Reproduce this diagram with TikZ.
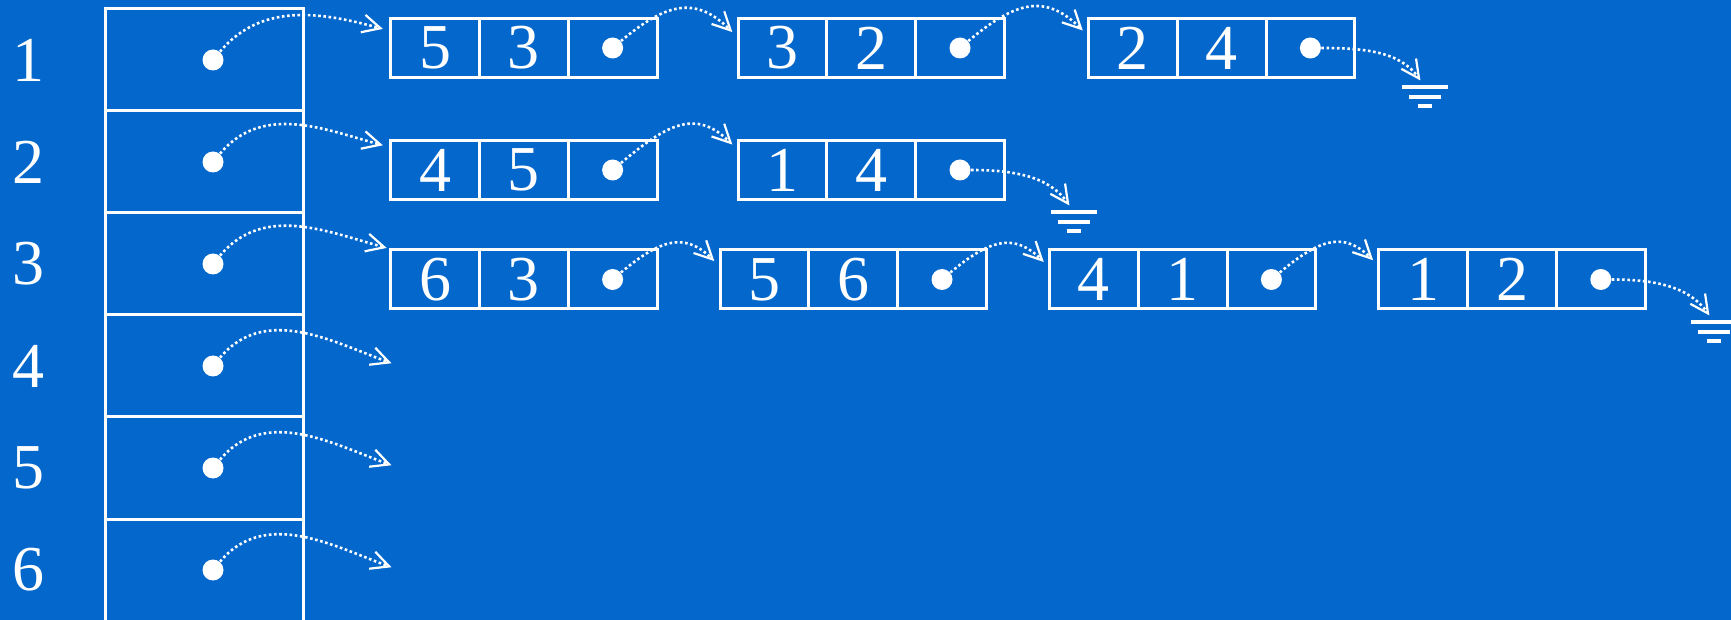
\documentclass[tikz,border=0pt]{standalone}
\usepackage{fontspec}
\setmainfont{Liberation Serif}
\usetikzlibrary{arrows.meta,positioning}
\definecolor{slide}{RGB}{4,103,204}

\begin{document}
\begin{tikzpicture}[
    x=0.5pt, y=-0.5pt,
    font=\fontsize{32}{38}\selectfont,
    every node/.style={text=white},
    slot/.style={draw=white, line width=1.5pt, outer sep=0pt, inner sep=0pt,
      minimum width=99pt, minimum height=51pt},
    cell/.style={draw=white, line width=1.5pt, outer sep=0pt, inner sep=0pt,
      minimum width=44.4pt, minimum height=29.5pt},
    ptr/.style={circle, fill=white, minimum size=10.5pt, inner sep=0pt},
    idx/.style={inner sep=0pt},
    link/.style={white, line width=1.3pt, dash pattern=on 1.3pt off 1.3pt,
      -{Straight Barb[length=9pt, width=9pt, line width=1.1pt]}, shorten >=4pt},
    earth/.pic={\draw[white, line width=1.6pt] (-23,0) -- (23,0) (-16,10) -- (16,10) (-7,19) -- (7,19);}
  ]
    \useasboundingbox (0,0) rectangle (1731,620);
    \fill[slide] (0,0) rectangle (1731,620);

    % the table of list heads
    \node[slot] (t1) at (204,60) {};
    \node[slot, below=0pt of t1] (t2) {};
    \node[slot, below=0pt of t2] (t3) {};
    \node[slot, below=0pt of t3] (t4) {};
    \node[slot, below=0pt of t4] (t5) {};
    \node[slot, below=0pt of t5] (t6) {};
    \node[idx] (n1) at (28,60) {1};
    \node[idx] (n2) at (28,162) {2};
    \node[idx] (n3) at (28,264) {3};
    \node[idx] (n4) at (28,366) {4};
    \node[idx] (n5) at (28,468) {5};
    \node[idx] (n6) at (28,570) {6};
    \node[ptr] (p1) at ([xshift=4.5pt]t1.center) {};
    \node[ptr] (p2) at ([xshift=4.5pt]t2.center) {};
    \node[ptr] (p3) at ([xshift=4.5pt]t3.center) {};
    \node[ptr] (p4) at ([xshift=4.5pt]t4.center) {};
    \node[ptr] (p5) at ([xshift=4.5pt]t5.center) {};
    \node[ptr] (p6) at ([xshift=4.5pt]t6.center) {};

    % list 1
    \node[cell] (r11a) at (435,48) {5};
    \node[cell, right=0pt of r11a] (r11b) {3};
    \node[cell, right=0pt of r11b] (r11c) {};
    \node[cell, right=40.5pt of r11c] (r12a) {3};
    \node[cell, right=0pt of r12a] (r12b) {2};
    \node[cell, right=0pt of r12b] (r12c) {};
    \node[cell, right=42pt of r12c] (r13a) {2};
    \node[cell, right=0pt of r13a] (r13b) {4};
    \node[cell, right=0pt of r13b] (r13c) {};

    % list 2
    \node[cell] (r21a) at (435,170) {4};
    \node[cell, right=0pt of r21a] (r21b) {5};
    \node[cell, right=0pt of r21b] (r21c) {};
    \node[cell, right=40.5pt of r21c] (r22a) {1};
    \node[cell, right=0pt of r22a] (r22b) {4};
    \node[cell, right=0pt of r22b] (r22c) {};

    % list 3
    \node[cell] (r31a) at (435,279.5) {6};
    \node[cell, right=0pt of r31a] (r31b) {3};
    \node[cell, right=0pt of r31b] (r31c) {};
    \node[cell, right=31.5pt of r31c] (r32a) {5};
    \node[cell, right=0pt of r32a] (r32b) {6};
    \node[cell, right=0pt of r32b] (r32c) {};
    \node[cell, right=31.5pt of r32c] (r33a) {4};
    \node[cell, right=0pt of r33a] (r33b) {1};
    \node[cell, right=0pt of r33b] (r33c) {};
    \node[cell, right=31.5pt of r33c] (r34a) {1};
    \node[cell, right=0pt of r34a] (r34b) {2};
    \node[cell, right=0pt of r34b] (r34c) {};

    \node[ptr] (q11) at (r11c) {};
    \node[ptr] (q12) at (r12c) {};
    \node[ptr] (q13) at (r13c) {};
    \node[ptr] (q21) at (r21c) {};
    \node[ptr] (q22) at (r22c) {};
    \node[ptr] (q31) at (r31c) {};
    \node[ptr] (q32) at (r32c) {};
    \node[ptr] (q33) at (r33c) {};
    \node[ptr] (q34) at (r34c) {};

    % ends of the lists
    \coordinate (g1) at (1425,87);
    \coordinate (g2) at (1074,212);
    \coordinate (g3) at (1714,322);
    \pic at (g1) {earth};
    \pic at (g2) {earth};
    \pic at (g3) {earth};
    \coordinate (e4) at (399,366);
    \coordinate (e5) at (399,468);
    \coordinate (e6) at (399,570);

    \draw[link] (p1) to[out=50, in=165] (r11a.159);
    \draw[link] (p2) to[out=50, in=165] (r21a.153);
    \draw[link] (p3) to[out=50, in=165] (r31a.144);
    \draw[link] (p4) to[out=50, in=160] (e4);
    \draw[link] (p5) to[out=50, in=160] (e5);
    \draw[link] (p6) to[out=50, in=160] (e6);

    \draw[link] (q11) to[out=40, in=135, looseness=1.3] (r12a.167);
    \draw[link] (q12) to[out=40, in=135, looseness=1.3] (r13a.165);
    \draw[link] (q13) to[out=0, in=125] (g1);
    \draw[link] (q21) to[out=40, in=135, looseness=1.3] (r22a.156);
    \draw[link] (q22) to[out=0, in=125] (g2);
    \draw[link] (q31) to[out=40, in=135, looseness=1.3] (r32a.164);
    \draw[link] (q32) to[out=40, in=135, looseness=1.3] (r33a.165);
    \draw[link] (q33) to[out=40, in=135, looseness=1.3] (r34a.163);
    \draw[link] (q34) to[out=0, in=125] (g3);
  \end{tikzpicture}
\end{document}
